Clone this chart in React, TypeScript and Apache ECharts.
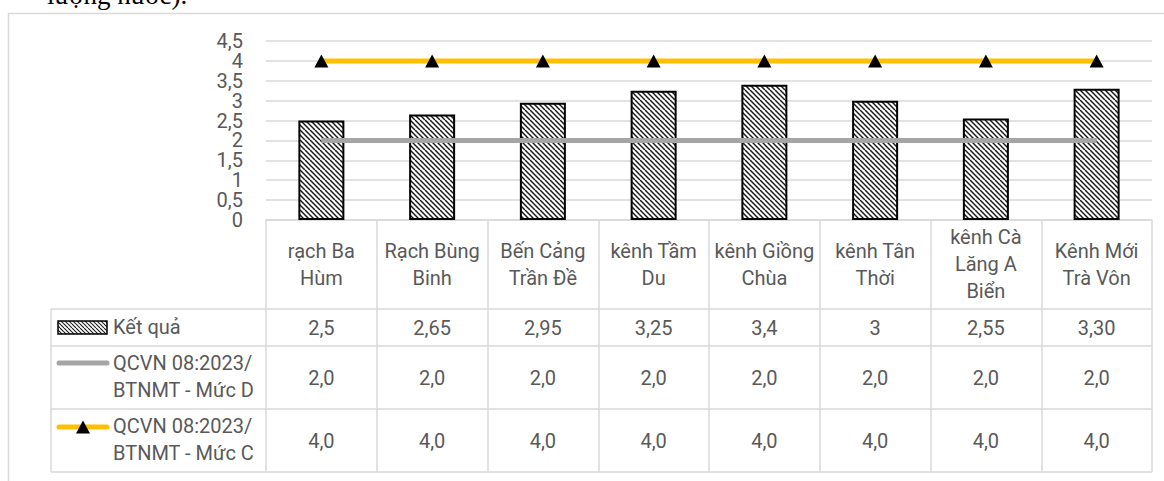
import React, { useEffect, useRef } from "react";
import * as echarts from "echarts";

const categories = [
  "rạch Ba\nHùm",
  "Rạch Bùng\nBinh",
  "Bến Cảng\nTrần Đề",
  "kênh Tầm\nDu",
  "kênh Giồng\nChùa",
  "kênh Tân\nThời",
  "kênh Cà\nLăng A\nBiển",
  "Kênh Mới\nTrà Vôn",
];
const resultValues = [2.5, 2.65, 2.95, 3.25, 3.4, 3, 2.55, 3.3];
const resultLabels = ["2,5", "2,65", "2,95", "3,25", "3,4", "3", "2,55", "3,30"];
const limitD = [2, 2, 2, 2, 2, 2, 2, 2];
const limitC = [4, 4, 4, 4, 4, 4, 4, 4];
const seriesNames = ["Kết quả", "QCVN 08:2023/\nBTNMT - Mức D", "QCVN 08:2023/\nBTNMT - Mức C"];
const yMin = 0;
const yMax = 4.5;
const yStep = 0.5;
const headerText = "lượng nước).";

const TXT = "#595959";
const GRID = "#D9D9D9";
const FONT = "Roboto";

function makeHatch(size: number, period: number, lw: number) {
  const c = document.createElement("canvas");
  c.width = size;
  c.height = size;
  const ctx = c.getContext("2d")!;
  ctx.fillStyle = "#ffffff";
  ctx.fillRect(0, 0, size, size);
  ctx.strokeStyle = "#1a1a1a";
  ctx.lineWidth = lw;
  for (let k = -size; k <= size * 2; k += period) {
    ctx.beginPath();
    ctx.moveTo(k, 0);
    ctx.lineTo(k + size, size);
    ctx.stroke();
  }
  return c;
}

export default function App() {
  const ref = useRef<HTMLDivElement>(null);
  useEffect(() => {
    if (!ref.current) return;
    const chart = echarts.init(ref.current, undefined, { renderer: "svg" });
    const hatch = makeHatch(10, 5, 1.5);
    const hatchSmall = makeHatch(8, 4, 1.1);

    const gridLeft = 266;
    const gridTop = 41;
    const gridW = 886;
    const gridH = 179;
    const gridRight = gridLeft + gridW;

    chart.setOption({
      animation: false,
      backgroundColor: "#ffffff",
      textStyle: { fontFamily: FONT },
      grid: { left: gridLeft, top: gridTop, width: gridW, height: gridH, containLabel: false },
      xAxis: {
        type: "category",
        data: categories,
        boundaryGap: true,
        axisLine: { show: true, lineStyle: { color: GRID, width: 1.5 } },
        axisTick: { show: true, interval: 0, length: 252, lineStyle: { color: GRID, width: 1.5 } },
        axisLabel: {
          interval: 0,
          color: TXT,
          fontSize: 20,
          lineHeight: 27,
          fontFamily: FONT,
          margin: 44,
          verticalAlign: "middle",
          align: "center",
        },
        splitLine: { show: false },
      },
      yAxis: {
        type: "value",
        min: yMin,
        max: yMax,
        interval: yStep,
        axisLine: { show: false },
        axisTick: { show: false },
        axisLabel: {
          color: TXT,
          fontSize: 20,
          lineHeight: 18,
          fontFamily: FONT,
          margin: 23,
          formatter: (v: number) => String(v).replace(".", ","),
        },
        splitLine: { show: true, lineStyle: { color: GRID, width: 1.5 } },
      },
      series: [
        {
          name: "Kết quả",
          type: "bar",
          data: resultValues,
          barWidth: 46,
          itemStyle: {
            color: { image: hatch, repeat: "repeat" },
            borderColor: "#000000",
            borderWidth: 2,
          },
          z: 2,
        },
        {
          name: "Mức D",
          type: "line",
          data: limitD,
          symbol: "none",
          lineStyle: { color: "#A5A5A5", width: 5 },
          z: 3,
        },
        {
          name: "Mức C",
          type: "line",
          data: limitC,
          symbol: "triangle",
          symbolSize: [14, 13],
          showAllSymbol: true,
          itemStyle: { color: "#000000" },
          lineStyle: { color: "#FFC000", width: 5 },
          z: 4,
        },
      ],
    });

    const xs = categories.map((_, i) => chart.convertToPixel({ xAxisIndex: 0 }, i) as number);
    const rowLines = [309, 346, 409, 472];
    const tableLeft = 51;
    const rowCenters = [327.5, 377.5, 440.5];
    const rowTexts = [
      resultLabels,
      limitD.map((v) => v.toFixed(1).replace(".", ",")),
      limitC.map((v) => v.toFixed(1).replace(".", ",")),
    ];

    const graphics: any[] = [];
    graphics.push({
      type: "rect",
      shape: { x: 8.5, y: 13.5, width: 1170, height: 480 },
      style: { fill: "none", stroke: GRID, lineWidth: 1.5 },
      silent: true,
      z: 0,
    });
    graphics.push({
      type: "text",
      x: 47,
      y: 8,
      style: { text: headerText, font: "27px 'Liberation Serif'", fill: "#000000", verticalAlign: "bottom" },
      silent: true,
    });
    rowLines.forEach((y) =>
      graphics.push({
        type: "line",
        shape: { x1: tableLeft, y1: y, x2: gridRight, y2: y },
        style: { stroke: GRID, lineWidth: 1.5 },
        silent: true,
      })
    );
    graphics.push({
      type: "line",
      shape: { x1: tableLeft, y1: rowLines[0], x2: tableLeft, y2: rowLines[3] },
      style: { stroke: GRID, lineWidth: 1.5 },
      silent: true,
    });
    rowTexts.forEach((arr, r) =>
      arr.forEach((t, i) =>
        graphics.push({
          type: "text",
          x: xs[i],
          y: rowCenters[r],
          style: { text: t, fill: TXT, font: `20px ${FONT}`, align: "center", verticalAlign: "middle" },
          silent: true,
        })
      )
    );
    // legend keys
    graphics.push({
      type: "rect",
      shape: { x: 58, y: 321, width: 49, height: 13 },
      style: { fill: { image: hatchSmall, repeat: "repeat" } as any, stroke: "#000000", lineWidth: 1.5 },
      silent: true,
    });
    graphics.push({
      type: "line",
      shape: { x1: 59, y1: 363, x2: 107, y2: 363 },
      style: { stroke: "#A5A5A5", lineWidth: 5, lineCap: "round" },
      silent: true,
    });
    graphics.push({
      type: "line",
      shape: { x1: 59, y1: 427, x2: 107, y2: 427 },
      style: { stroke: "#FFC000", lineWidth: 5, lineCap: "round" },
      silent: true,
    });
    graphics.push({
      type: "polygon",
      shape: { points: [[76, 433.5], [90, 433.5], [83, 420.5]] },
      style: { fill: "#000000" },
      silent: true,
    });
    seriesNames.forEach((name, r) =>
      graphics.push({
        type: "text",
        x: 113,
        y: rowCenters[r] - (r === 0 ? 0.5 : 1),
        style: { text: name, fill: TXT, font: `20px ${FONT}`, align: "left", verticalAlign: "middle", lineHeight: 27 },
        silent: true,
      })
    );

    chart.setOption({ graphic: graphics });
    return () => chart.dispose();
  }, []);
  return (
    <div
      ref={ref}
      style={{ position: "absolute", left: 0, top: 0, width: 1164, height: 481, background: "#fff" }}
    />
  );
}
